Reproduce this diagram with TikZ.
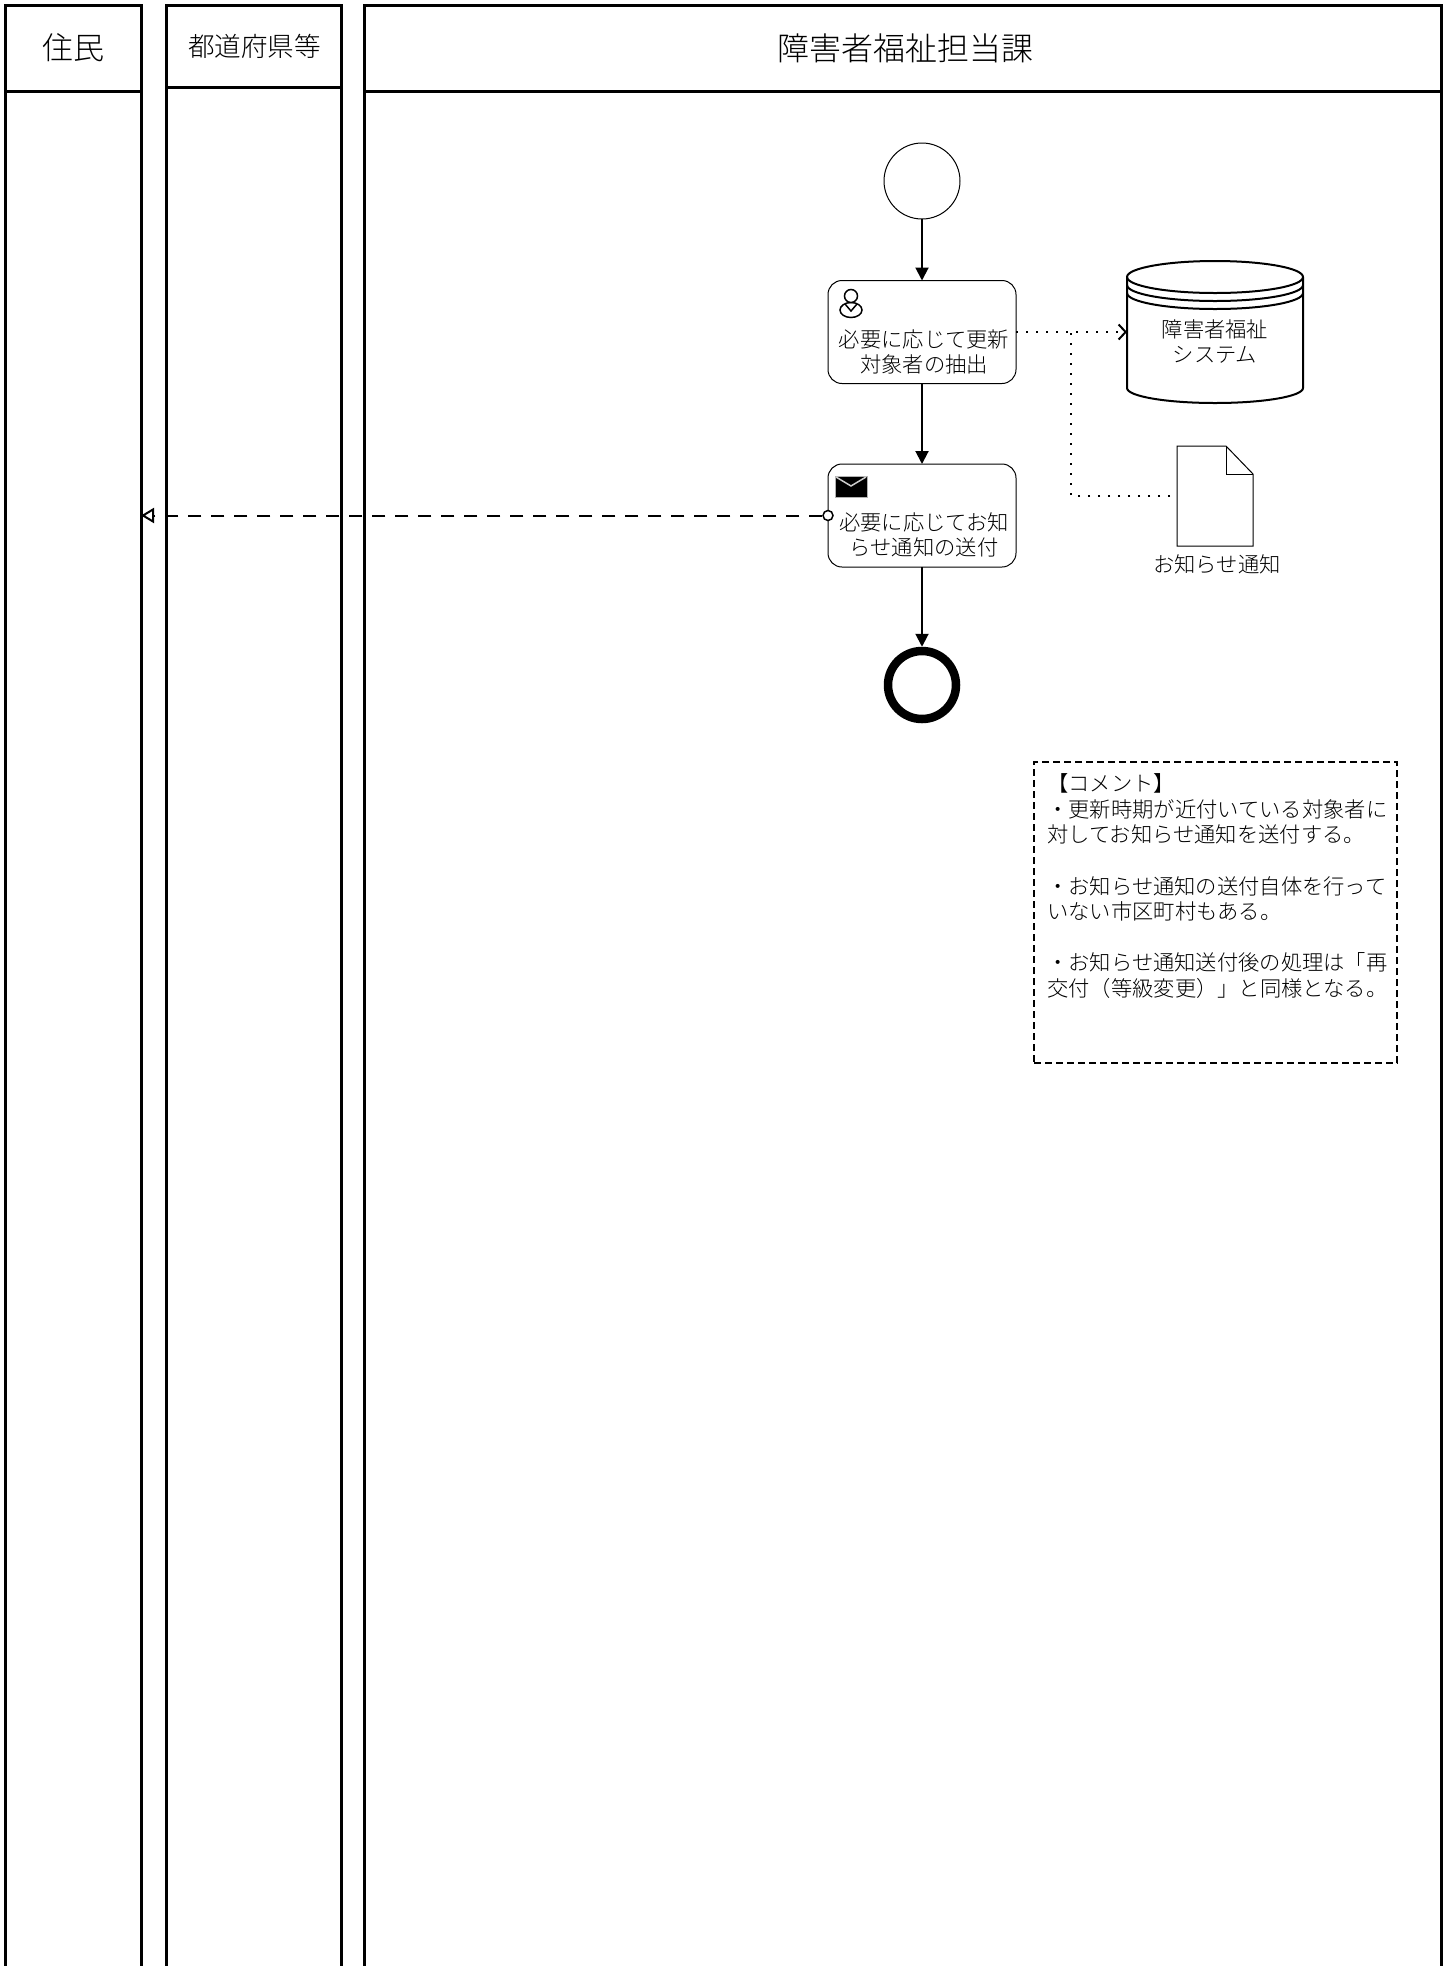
\documentclass[tikz,border=0pt]{standalone}
\usepackage{fontspec}
\setmainfont{Noto Sans CJK JP}[UprightFont=* Light]
\usetikzlibrary{arrows.meta}
\newcommand{\fsize}[2]{\fontsize{#1}{#2}\selectfont}
\tikzset{
  lanehead/.style={draw, line width=3pt, inner sep=0pt, outer sep=0pt, fill=white},
  laneline/.style={black, line width=3pt},
  tasknode/.style={draw, rounded corners=14pt, minimum width=188pt, minimum height=103pt, inner sep=0pt, outer sep=0pt, line width=1pt},
  tasklabel/.style={align=center, inner sep=0pt, font=\fsize{21.3}{25}},
  eventnode/.style={draw, circle, inner sep=0pt, outer sep=0pt, minimum size=#1},
  seqflow/.style={black, line width=2pt, -{Triangle[length=13pt,width=13pt]}},
  assoc/.style={black, line width=2pt, dash pattern=on 2pt off 8pt},
}
\begin{document}
\begin{tikzpicture}[x=1pt,y=-1pt]
\useasboundingbox (0,0) rectangle (1443,1966);
\fill[white] (0,0) rectangle (1443,1966);
% lanes
\node[lanehead, minimum width=136pt, minimum height=86pt, font=\fsize{31}{36}] (residenthead) at (73,48) {住民};
\node[lanehead, minimum width=175pt, minimum height=82pt, font=\fsize{26.6}{30}] (prefhead) at (253.5,46) {\hspace*{2pt}都道府県等};
\node[lanehead, minimum width=1077pt, minimum height=86pt, font=\fsize{32}{36}] (welfarehead) at (902.5,48) {\hspace*{5pt}障害者福祉担当課};
\coordinate (residentend) at (141,1966);
\draw[laneline] (residenthead.south west) -- (residenthead.south west |- residentend);
\draw[laneline] (residenthead.south east) -- (residentend);
\draw[laneline] (prefhead.south west) -- (prefhead.south west |- residentend);
\draw[laneline] (prefhead.south east) -- (prefhead.south east |- residentend);
\draw[laneline] (welfarehead.south west) -- (welfarehead.south west |- residentend);
\draw[laneline] (welfarehead.south east) -- (welfarehead.south east |- residentend);
% flow
\node[eventnode=76pt, line width=1pt] (start) at (922,181) {};
\node[tasknode] (extract) at (922,332) {};
\node[tasklabel] (extractlabel) at (924,352) {必要に応じて更新\\対象者の抽出};
\node[tasknode] (send) at (922,515.5) {};
\node[tasklabel] (sendlabel) at (924,535) {必要に応じてお知\\らせ通知の送付};
\node[eventnode=68pt, line width=8.5pt, outer sep=4.25pt] (end) at (922,685) {};
\draw[seqflow] (start) -- (extract);
\draw[seqflow] (extract) -- (send);
\draw[seqflow] (send) -- (end);
% user icon
\draw[line width=1.5pt] (851,310) ellipse (11pt and 7.5pt);
\draw[line width=1.5pt] (845,304) -- (851,311) -- (857,304);
\draw[line width=1.5pt, fill=white] (851,296) circle (6.5pt);
% envelope icon
\fill[black, draw=gray!60, line width=1pt] (835,476) rectangle (867,497);
\draw[gray!40, line width=1.5pt] (836,477) -- (851,486) -- (866,477);
% database
\draw[line width=2pt, fill=white] (1127,277) arc[start angle=180, end angle=0, x radius=88pt, y radius=16pt]
  -- (1303,388) arc[start angle=0, end angle=-180, x radius=88pt, y radius=15pt] -- cycle;
\draw[line width=2pt] (1127,277) arc[start angle=-180, end angle=0, x radius=88pt, y radius=16pt];
\draw[line width=2pt] (1127,285) arc[start angle=-180, end angle=0, x radius=88pt, y radius=16pt];
\draw[line width=2pt] (1127,293) arc[start angle=-180, end angle=0, x radius=88pt, y radius=16pt];
\node[tasklabel] (dblabel) at (1215,341) {障害者福祉\\システム};
\coordinate (dbleft) at (1127,332);
% document
\node[inner sep=0pt, outer sep=0pt, minimum width=76pt, minimum height=100pt] (notice) at (1215,496) {};
\draw[line width=1pt] (1177,446) -- (1226,446) -- (1253,474) -- (1253,546) -- (1177,546) -- cycle;
\draw[line width=1pt] (1226,446) -- (1226,474) -- (1253,474);
\node[tasklabel] (noticelabel) at (1217,564) {お知らせ通知};
% associations
\coordinate (assocjoin) at (1071,332);
\draw[assoc, -{Straight Barb[length=7pt,width=15pt]}] (extract.east) -- (dbleft);
\draw[assoc, shorten <=7pt] (notice.west) -- (notice.west -| assocjoin) -- (assocjoin);
% message
\node[draw, circle, line width=1.5pt, fill=white, inner sep=0pt, minimum size=10pt] (msgstart) at (send.west) {};
\draw[black, line width=2pt, dash pattern=on 13pt off 10pt, -{Triangle[open,length=13pt,width=15pt]}] (msgstart) -- (msgstart -| residentend);
% comment
\node[draw, dashed, line width=2pt, minimum width=363pt, minimum height=301pt, inner sep=0pt, dash pattern=on 7pt off 4pt] (comment) at (1215.5,912.5) {};
\node[anchor=north west, align=left, inner sep=0pt, font=\fsize{21.3}{25.6}] (commenttext) at (1047,773.5) {【コメント】\\・更新時期が近付いている対象者に\\対してお知らせ通知を送付する。\\~\\・お知らせ通知の送付自体を行って\\いない市区町村もある。\\~\\・お知らせ通知送付後の処理は「再\\交付（等級変更）」と同様となる。};
\end{tikzpicture}
\end{document}
